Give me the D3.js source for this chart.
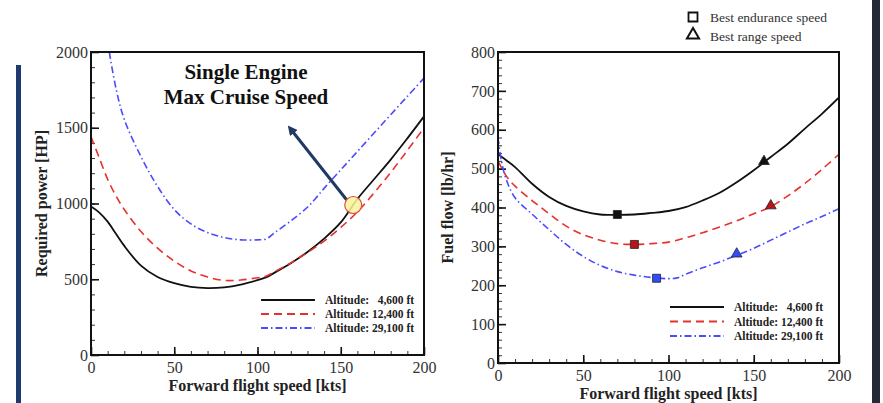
<!DOCTYPE html>
<html>
<head>
<meta charset="utf-8">
<script src="https://cdn.jsdelivr.net/npm/d3@7"></script>
<style>
  html, body { margin: 0; padding: 0; background: #fff; }
  svg { display: block; font-family: "Liberation Serif", "Times New Roman", serif; }
  .axis-title { font-weight: bold; font-size: 16px; fill: #222; }
  .legend-text { font-weight: bold; font-size: 11.5px; fill: #222; }
</style>
</head>
<body>
<div id="chart"></div>
<script>
const W = 883, H = 403;

// left panel: required power vs forward speed
const speedLow = [0, 5, 10, 15, 20, 30, 40, 50, 60, 70, 80, 90, 100, 105, 110, 120, 130, 140, 150, 160, 170, 180, 190, 200];
const power4600 = [980, 940, 880, 800, 720, 590, 515, 474, 450, 442, 447, 465, 494, 512, 542, 606, 680, 768, 875, 1030, 1160, 1290, 1430, 1575];
const power12400 = [1440, 1300, 1160, 1050, 960, 815, 705, 620, 555, 515, 492, 495, 510, 520, 548, 608, 676, 752, 842, 945, 1070, 1205, 1350, 1500];
const speedHigh = [11, 15, 20, 30, 40, 50, 60, 70, 80, 90, 100, 105, 110, 120, 130, 135, 140, 150, 160, 170, 180, 190, 200];
const power29100 = [2000, 1760, 1555, 1310, 1112, 960, 865, 808, 775, 760, 760, 765, 805, 885, 975, 1035, 1100, 1222, 1343, 1465, 1586, 1707, 1828];

// right panel: fuel flow vs forward speed
const speedFuel = [0, 5, 10, 20, 30, 40, 50, 60, 70, 80, 90, 100, 110, 120, 130, 140, 150, 160, 170, 180, 190, 200];
const fuel4600 = [537, 521, 504, 461, 427, 404, 390, 382, 381, 382, 386, 391, 401, 418, 438, 465, 496, 530, 564, 603, 641, 683];
const fuel12400 = [520, 480, 455, 418, 384, 352, 330, 316, 307, 305, 307, 311, 322, 335, 350, 366, 384, 402, 430, 462, 498, 537];
const speedFuelHigh = [0, 2, 5, 10, 20, 30, 40, 50, 60, 70, 80, 90, 100, 105, 110, 120, 130, 140, 150, 160, 170, 180, 190, 200];
const fuel29100 = [580, 520, 470, 425, 383, 343, 305, 274, 251, 235, 226, 220, 217, 219, 228, 245, 260, 277, 295, 316, 337, 358, 377, 397];

const enduranceSpeed = [70, 80, 93];
const enduranceFuel = [382, 305, 218];
const rangeSpeed = [156, 160, 140];
const rangeFuel = [516, 402, 278];

const legendLabels = ["Altitude:   4,600 ft", "Altitude: 12,400 ft", "Altitude: 29,100 ft"];
const lineColors = ["#111", "#e8302c", "#4a4aff"];
const markerColors = ["#111", "#b8141a", "#2f4dff"];
const dashes = [null, "8,5", "7,3,1.5,3"];

const SERIF = '"Liberation Serif", "Times New Roman", serif';

const svg = d3.select("#chart").append("svg").attr("width", W).attr("height", H);

// side decorations
svg.append("rect").attr("x", 16).attr("y", 65).attr("width", 5).attr("height", H - 65).attr("fill", "#1f3a6e");
svg.append("rect").attr("x", 872).attr("y", 0).attr("width", 8).attr("height", H).attr("fill", "#232a36");

function styleTicks(a) {
  a.select(".domain").remove();
  a.selectAll("line").attr("stroke", "#111").attr("stroke-width", 1.6);
  a.selectAll("text").style("font-family", SERIF).style("font-size", "16px").attr("fill", "#333");
}

function panel({ left, right, top, bottom, yMax, yMajor, yMinor, yTitle, series, legendPos }) {
  const x = d3.scaleLinear().domain([0, 200]).range([left, right]);
  const y = d3.scaleLinear().domain([0, yMax]).range([bottom, top]);
  const g = svg.append("g");
  const fmt = d3.format("d");

  const clipId = "clip" + left;
  g.append("clipPath").attr("id", clipId).append("rect")
    .attr("x", left).attr("y", top).attr("width", right - left).attr("height", bottom - top);

  // minor ticks
  g.append("g").attr("transform", `translate(0,${bottom})`)
    .call(d3.axisBottom(x).tickValues(d3.range(0, 201, 10)).tickSize(-4).tickFormat(""))
    .call(a => a.select(".domain").remove())
    .selectAll("line").attr("stroke", "#333").attr("stroke-width", 1);
  g.append("g").attr("transform", `translate(${left},0)`)
    .call(d3.axisLeft(y).tickValues(d3.range(0, yMax + 1, yMinor)).tickSize(-4).tickFormat(""))
    .call(a => a.select(".domain").remove())
    .selectAll("line").attr("stroke", "#333").attr("stroke-width", 1);

  // major ticks + labels
  g.append("g").attr("transform", `translate(0,${bottom})`)
    .call(d3.axisBottom(x).tickValues([0, 50, 100, 150, 200]).tickFormat(fmt).tickSizeInner(-8).tickSizeOuter(0).tickPadding(7))
    .call(styleTicks);
  g.append("g").attr("transform", `translate(${left},0)`)
    .call(d3.axisLeft(y).tickValues(d3.range(0, yMax + 1, yMajor)).tickFormat(fmt).tickSizeInner(-8).tickSizeOuter(0).tickPadding(3))
    .call(styleTicks);

  // lines
  const line = d3.line().x(d => x(d[0])).y(d => y(d[1])).curve(d3.curveCatmullRom.alpha(0.5));
  series.forEach((s, i) => {
    g.append("path").attr("clip-path", `url(#${clipId})`)
      .datum(d3.zip(s.xs, s.ys))
      .attr("d", line)
      .attr("fill", "none")
      .attr("stroke", lineColors[i])
      .attr("stroke-width", i === 0 ? 1.8 : 1.6)
      .attr("stroke-dasharray", dashes[i]);
  });

  // frame
  g.append("rect").attr("x", left).attr("y", top).attr("width", right - left).attr("height", bottom - top)
    .attr("fill", "none").attr("stroke", "#111").attr("stroke-width", 2);

  // titles
  g.append("text").attr("class", "axis-title").attr("text-anchor", "middle")
    .attr("x", (left + right) / 2).attr("y", bottom + 36).text("Forward flight speed [kts]");
  g.append("text").attr("class", "axis-title").attr("text-anchor", "middle")
    .attr("transform", `translate(${legendPos.yTitleX},${(top + bottom) / 2}) rotate(-90)`)
    .text(yTitle);

  // legend
  legendLabels.forEach((lab, i) => {
    const ly = legendPos.y + i * legendPos.step;
    g.append("line").attr("x1", legendPos.x).attr("x2", legendPos.x + 54).attr("y1", ly).attr("y2", ly)
      .attr("stroke", lineColors[i]).attr("stroke-width", 2).attr("stroke-dasharray", dashes[i]);
    g.append("text").attr("class", "legend-text").attr("x", legendPos.x + 64).attr("y", ly).attr("dy", "0.35em")
      .attr("xml:space", "preserve").text(lab);
  });
  return { x, y, g };
}

// left panel
const L = panel({
  left: 91, right: 424, top: 52, bottom: 355, yMax: 2000, yMajor: 500, yMinor: 100,
  yTitle: "Required power [HP]",
  series: [
    { xs: speedLow, ys: power4600 },
    { xs: speedLow, ys: power12400 },
    { xs: speedHigh, ys: power29100 },
  ],
  legendPos: { x: 261, y: 300, step: 14, yTitleX: 47 },
});

// annotation
L.g.append("text").attr("text-anchor", "middle").attr("x", 246).attr("y", 79)
  .style("font-weight", "bold").style("font-size", "21px").attr("fill", "#111").text("Single Engine");
L.g.append("text").attr("text-anchor", "middle").attr("x", 246).attr("y", 104)
  .style("font-weight", "bold").style("font-size", "21px").attr("fill", "#111").text("Max Cruise Speed");

svg.append("defs").append("marker").attr("id", "arrowHead")
  .attr("viewBox", "0 0 10 10").attr("refX", 5).attr("refY", 5)
  .attr("markerWidth", 3.2).attr("markerHeight", 3.2).attr("orient", "auto")
  .append("path").attr("d", "M0,0 L10,5 L0,10 Z").attr("fill", "#1f3864");
L.g.append("line")
  .attr("x1", L.x(153.5)).attr("y1", L.y(1025))
  .attr("x2", L.x(120)).attr("y2", L.y(1490))
  .attr("stroke", "#1f3864").attr("stroke-width", 3).attr("marker-end", "url(#arrowHead)");
L.g.append("circle").attr("cx", L.x(157.5)).attr("cy", L.y(990)).attr("r", 8.5)
  .attr("fill", "#f8f39a").attr("fill-opacity", 0.85).attr("stroke", "#e04848").attr("stroke-width", 1.2);

// right panel
const R = panel({
  left: 498, right: 839, top: 52, bottom: 363, yMax: 800, yMajor: 100, yMinor: 20,
  yTitle: "Fuel flow [lb/hr]",
  series: [
    { xs: speedFuel, ys: fuel4600 },
    { xs: speedFuel, ys: fuel12400 },
    { xs: speedFuelHigh, ys: fuel29100 },
  ],
  legendPos: { x: 670, y: 307, step: 14.5, yTitleX: 453 },
});

const sq = d3.symbol().type(d3.symbolSquare).size(64);
const tri = d3.symbol().type(d3.symbolTriangle).size(50);
enduranceSpeed.forEach((s, i) => {
  R.g.append("path").attr("d", sq).attr("transform", `translate(${R.x(s)},${R.y(enduranceFuel[i])})`)
    .attr("fill", markerColors[i]).attr("stroke", "#222").attr("stroke-width", 0.8);
});
rangeSpeed.forEach((s, i) => {
  R.g.append("path").attr("d", tri).attr("transform", `translate(${R.x(s)},${R.y(rangeFuel[i]) - 1})`)
    .attr("fill", markerColors[i]).attr("stroke", "#222").attr("stroke-width", 0.8);
});

// marker legend
const mk = svg.append("g");
mk.append("path").attr("d", d3.symbol().type(d3.symbolSquare).size(81)).attr("transform", "translate(693,17)")
  .attr("fill", "none").attr("stroke", "#111").attr("stroke-width", 1.8);
mk.append("path").attr("d", d3.symbol().type(d3.symbolTriangle).size(64)).attr("transform", "translate(693,35)")
  .attr("fill", "none").attr("stroke", "#111").attr("stroke-width", 2);
mk.append("text").attr("x", 710).attr("y", 17).attr("dy", "0.35em").style("font-size", "13.5px").attr("fill", "#333")
  .text("Best endurance speed");
mk.append("text").attr("x", 710).attr("y", 36).attr("dy", "0.35em").style("font-size", "13.5px").attr("fill", "#333")
  .text("Best range speed");
</script>
</body>
</html>
